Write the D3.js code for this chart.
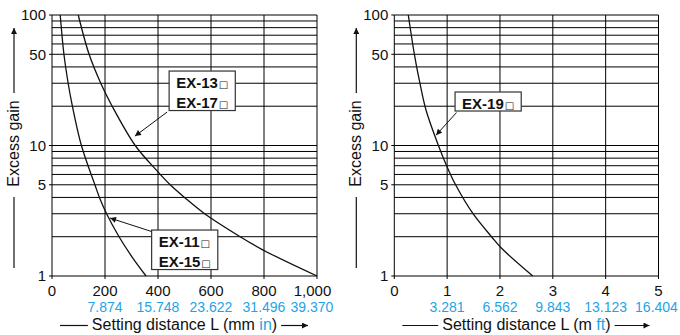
<!DOCTYPE html>
<html><head><meta charset="utf-8">
<script src="https://cdn.jsdelivr.net/npm/d3@7"></script>
<style>body{margin:0;background:#fff} svg{display:block;font-family:"Liberation Sans",Arial,Helvetica,sans-serif}</style>
</head><body><svg id="c" width="680" height="335"></svg>
<script>
// ---- data ----
const yTickValues = [1, 5, 10, 50, 100];
const yGridValues = [1,2,3,4,5,6,7,8,9,10,20,30,40,50,60,70,80,90,100];

const leftXTicks  = [0, 200, 400, 600, 800, 1000];
const leftXLabels = ["0", "200", "400", "600", "800", "1,000"];
const leftXInch   = ["", "7.874", "15.748", "23.622", "31.496", "39.370"];

const rightXTicks  = [0, 1, 2, 3, 4, 5];
const rightXLabels = ["0", "1", "2", "3", "4", "5"];
const rightXFeet   = ["", "3.281", "6.562", "9.843", "13.123", "16.404"];

// EX-11 / EX-15 (mm, excess gain)
const ex11Dist = [31, 45, 61, 73, 111, 162, 179, 206, 253, 301, 355];
const ex11Gain = [100, 50, 30, 22, 10, 5, 4, 3, 2, 1.41, 1];
// EX-13 / EX-17
const ex13Dist = [99, 140, 184, 227, 314, 393, 446, 500, 576, 710, 797, 1000];
const ex13Gain = [100, 50, 30, 20, 10, 6.5, 5, 4, 3, 2, 1.58, 1];
// EX-19 (m, excess gain)
const ex19Dist = [0.265, 0.38, 0.485, 0.60, 0.835, 0.99, 1.16, 1.49, 1.84, 2.03, 2.62];
const ex19Gain = [100, 50, 30, 18.7, 10, 7, 5, 3, 2, 1.63, 1];

const BLUE = "#1ea4e6";
const svg = d3.select("#c");

const defs = svg.append("defs");
defs.append("marker").attr("id","ah").attr("viewBox","0 0 10 10").attr("refX",10).attr("refY",5)
  .attr("markerWidth",8).attr("markerHeight",6).attr("markerUnits","userSpaceOnUse").attr("orient","auto")
  .append("path").attr("d","M0,0L10,5L0,10z").attr("fill","#111");

function drawPanel(cfg) {
  const g = svg.append("g");
  const x = d3.scaleLinear().domain(cfg.xDomain).range([cfg.left, cfg.right]);
  const y = d3.scaleLog().domain([1, 100]).range([276, 15]);

  // grid
  g.selectAll(".hg").data(yGridValues).enter().append("line")
    .attr("x1", x(cfg.xDomain[0])).attr("x2", x(cfg.xDomain[1]))
    .attr("y1", d => y(d)).attr("y2", d => y(d))
    .attr("stroke", "#000").attr("stroke-width", 1);
  g.selectAll(".vg").data(cfg.xTicks).enter().append("line")
    .attr("x1", d => x(d)).attr("x2", d => x(d))
    .attr("y1", y(1)).attr("y2", y(100))
    .attr("stroke", "#000").attr("stroke-width", 1);

  // ticks
  g.selectAll(".yt").data(yTickValues).enter().append("line")
    .attr("x1", x(cfg.xDomain[0]) - 3).attr("x2", x(cfg.xDomain[0]))
    .attr("y1", d => y(d)).attr("y2", d => y(d)).attr("stroke", "#000");
  g.selectAll(".xt").data(cfg.xTicks).enter().append("line")
    .attr("x1", d => x(d)).attr("x2", d => x(d))
    .attr("y1", y(1)).attr("y2", y(1) + 3).attr("stroke", "#000");

  // y labels
  g.selectAll(".yl").data(yTickValues).enter().append("text")
    .attr("x", x(cfg.xDomain[0]) - 6).attr("y", d => y(d)).attr("dy", "0.36em")
    .attr("text-anchor", "end").attr("font-size", 15).attr("fill", "#111")
    .text(d => String(d));
  // x labels
  g.selectAll(".xl").data(cfg.xTicks).enter().append("text")
    .attr("x", (d, i) => x(d) + (i === cfg.xTicks.length - 1 ? cfg.lastDx : 0)).attr("y", 295.5)
    .attr("text-anchor", "middle").attr("font-size", 15).attr("fill", "#111")
    .text((d, i) => cfg.xLabels[i]);
  g.selectAll(".xl2").data(cfg.xTicks).enter().append("text")
    .attr("x", (d, i) => x(d) + (i === cfg.xTicks.length - 1 ? cfg.lastDx2 : 0)).attr("y", 311.5)
    .attr("text-anchor", "middle").attr("font-size", 14).attr("fill", BLUE)
    .text((d, i) => cfg.xLabels2[i]);

  // curves
  const line = d3.line().x(d => x(d[0])).y(d => y(d[1])).curve(d3.curveCatmullRom.alpha(0.5));
  cfg.series.forEach(s => {
    const pts = s.dist.map((d, i) => [d, s.gain[i]]);
    g.append("path").attr("d", line(pts)).attr("fill", "none")
      .attr("stroke", "#111").attr("stroke-width", 1.3);
  });

  // annotations
  cfg.notes.forEach(n => {
    const bx = x(n.boxX), by = y(n.boxY);
    const box = g.append("g");
    const rect = box.append("rect").attr("fill", "#fff").attr("stroke", "#333").attr("stroke-width", 1.2);
    let maxW = 0;
    n.lines.forEach((t, i) => {
      const tx = box.append("text").attr("x", bx + 7).attr("y", by + 17 + i * 20)
        .attr("font-size", 15).attr("font-weight", "bold").attr("fill", "#111");
      tx.append("tspan").text(t);
      tx.append("tspan").attr("dx", 1).attr("font-size", 10).attr("font-weight", "normal")
        .attr("fill", "#222").attr("font-family", "DejaVu Sans").text("\u25A1");
      maxW = Math.max(maxW, tx.node().getComputedTextLength());
    });
    const h = n.lines.length === 1 ? 19 : 39.5;
    rect.attr("x", bx).attr("y", by).attr("width", maxW + 15).attr("height", h);
    g.append("line").attr("x1", bx + n.fromDx).attr("y1", by + h + n.fromDy)
      .attr("x2", x(n.tipX)).attr("y2", y(n.tipY))
      .attr("stroke", "#111").attr("stroke-width", 1).attr("marker-end", "url(#ah)");
  });

  // y title
  const off = cfg.left - 52;
  const cx = 19 + off, cy = 143.5;
  g.append("text").attr("transform", `translate(${cx},${cy}) rotate(-90)`)
    .attr("text-anchor", "middle").attr("font-size", 16).attr("fill", "#111").text("Excess gain");
  g.append("line").attr("x1", 14 + off).attr("x2", 14 + off).attr("y1", 93).attr("y2", 28)
    .attr("stroke", "#111").attr("stroke-width", 1.2).attr("marker-end", "url(#ah)");
  g.append("line").attr("x1", 14 + off).attr("x2", 14 + off).attr("y1", 197).attr("y2", 268)
    .attr("stroke", "#111").attr("stroke-width", 1.2);

  // x title
  const midX = (cfg.left + cfg.right) / 2;
  const tt = g.append("text").attr("x", midX).attr("y", 330).attr("text-anchor", "middle")
    .attr("font-size", 16).attr("fill", "#111");
  tt.append("tspan").text(cfg.titleA);
  tt.append("tspan").attr("fill", BLUE).text(cfg.titleB);
  tt.append("tspan").text(")");
  const bb = tt.node().getBBox();
  g.append("line").attr("x1", cfg.left + 8).attr("x2", bb.x - 4).attr("y1", 325.5).attr("y2", 325.5)
    .attr("stroke", "#111").attr("stroke-width", 1.2);
  g.append("line").attr("x1", bb.x + bb.width + 4).attr("x2", cfg.right - 9).attr("y1", 325.5).attr("y2", 325.5)
    .attr("stroke", "#111").attr("stroke-width", 1.2).attr("marker-end", "url(#ah)");
}

drawPanel({
  xDomain: [0, 1000], left: 52, right: 317,
  xTicks: leftXTicks, xLabels: leftXLabels, xLabels2: leftXInch, lastDx: -4.5, lastDx2: -5,
  titleA: "Setting distance L (mm ", titleB: "in",
  series: [{dist: ex11Dist, gain: ex11Gain}, {dist: ex13Dist, gain: ex13Gain}],
  notes: [
    {lines: ["EX-13", "EX-17"], boxX: 442, boxY: 37.2, fromDx: -2, fromDy: 1.5, tipX: 313, tipY: 11.8},
    {lines: ["EX-11", "EX-15"], boxX: 376, boxY: 2.25, fromDx: 0, fromDy: -38, tipX: 219, tipY: 2.78}
  ]
});
drawPanel({
  xDomain: [0, 5], left: 394.3, right: 658.5,
  xTicks: rightXTicks, xLabels: rightXLabels, xLabels2: rightXFeet, lastDx: 0, lastDx2: -2,
  titleA: "Setting distance L (m ", titleB: "ft",
  series: [{dist: ex19Dist, gain: ex19Gain}],
  notes: [
    {lines: ["EX-19"], boxX: 1.15, boxY: 25.7, fromDx: 1.5, fromDy: 1.5, tipX: 0.79, tipY: 12.0}
  ]
});
</script></body></html>
